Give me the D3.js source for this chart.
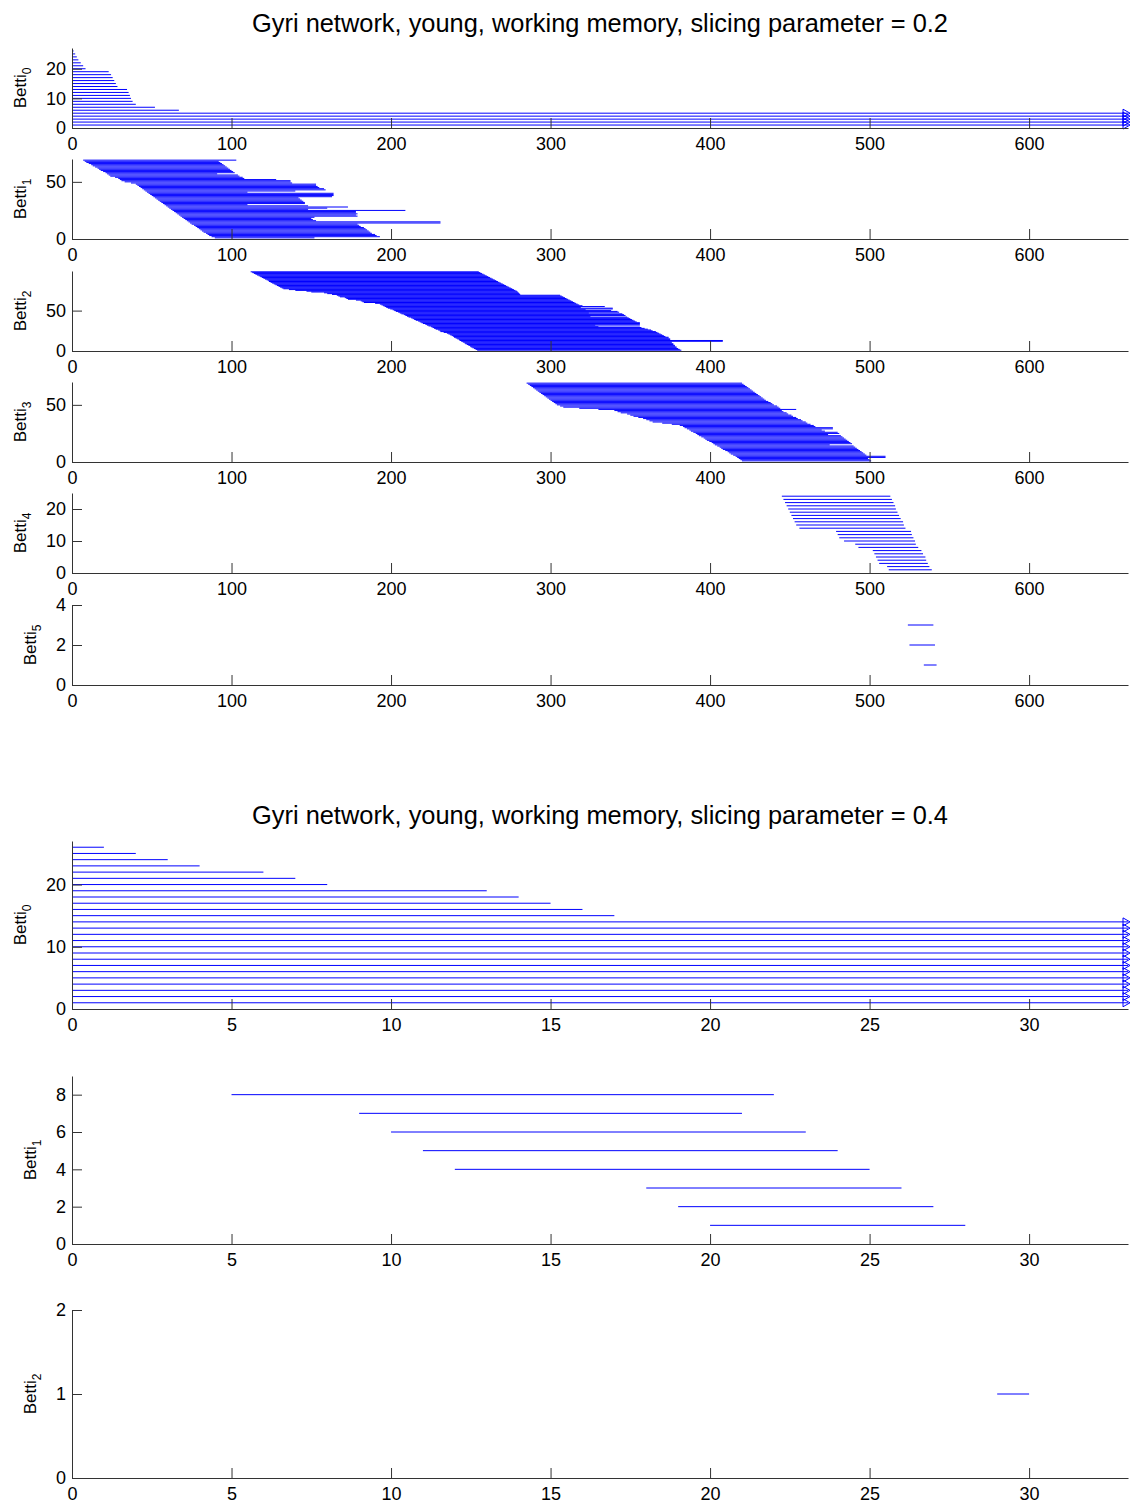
<!DOCTYPE html>
<html>
<head>
<meta charset="utf-8">
<script src="https://cdn.jsdelivr.net/npm/d3@7"></script>
<style>
  body { margin: 0; background: #fff; }
  svg { display: block; }
</style>
</head>
<body>
<div id="chart"></div>
<script>
// ---------------------------------------------------------------
// Persistence barcodes, slicing parameter = 0.2
// Each barcode is listed from its top row down to its bottom row.
// Infinity marks an interval that never dies.
// ---------------------------------------------------------------
const topFiltrationMax = 662;
const topXTicks = [0, 100, 200, 300, 400, 500, 600];

const topBetti0Births = [0,0,0,0,0,0,0,0,0,0,0,0,0,0,0,0,0,0,0,0,0,0,0,0,0,0];
const topBetti0Deaths = [1, 2, 3, 4, 5.5, 7, 8.5, 23, 24.5, 25.5, 26.5, 27.5, 28.5,
  34.5, 35.5, 36.3, 37, 38, 40, 52, 67, Infinity, Infinity, Infinity, Infinity, Infinity];
const topBetti0YTicks = [0, 10, 20];

const topBetti1Births = [7, 8, 9, 10.5, 12, 13, 14.5, 16, 17, 18, 19.5, 21, 22, 23, 24,
  27, 29, 30, 31, 33, 37,
  40, 41, 42, 43, 44, 45, 46, 47, 48, 49, 50, 51, 52, 53, 54, 55, 56, 57, 58, 59,
  60, 61, 62, 63, 64, 65, 66, 67, 68, 69, 70, 71, 72, 73, 74, 75,
  76.5, 77.5, 78.5, 79.5, 80.5, 81.5, 82.5, 84, 85, 86, 87.5, 89.5];
const topBetti1Deaths = [103, 92, 93, 94, 95, 96, 97, 98, 99, 100, 101, 102, 91, 104, 105, 107, 108,
  128, 137, 137, 138, 153, 153, 154, 155, 158, 159, 140, 110, 164, 164, 164, 163,
  142, 143, 144, 145, 146, 146, 110, 148, 173, 160, 148,
  209,
  178, 178, 179, 178, 179,
  152, 150, 151, 153,
  231, 231,
  179, 180, 181, 183, 184, 185, 186, 187, 188, 190, 191, 193, 152];
const topBetti1YTicks = [0, 50];

const topBetti2Births = [112, 113, 114, 115, 116, 117, 118, 119, 120, 121, 122, 123,
  123.5, 124.5, 125.5, 126.5, 127.5, 128.5, 129.5, 130.5, 131.5, 132.5,
  136, 140, 147, 150, 158, 160, 163, 166, 167, 168, 171, 172, 173, 178, 181, 182, 183, 190, 193, 194,
  195, 196, 197, 198, 199.5, 201, 202, 203, 204.5, 205.5, 206.5, 208, 209, 210, 211, 212.5,
  213.5, 214.5, 215.5, 217, 218, 219, 220, 221.5, 222.5, 223.5, 225, 226, 227, 228, 229.5, 230.5, 231,
  233, 235, 236, 237, 238, 239, 239.5, 240.5, 241.5, 242.5, 243, 244, 245, 246, 246.5, 247.5,
  248.5, 249.5, 250, 251, 252, 253, 254];
const topBetti2Deaths = [255, 256, 257, 258, 259, 260, 261, 262, 263, 264, 265, 266, 267, 268, 269,
  270, 271, 272, 273, 274, 275, 276, 277, 278, 279, 279.5, 280, 280.5, 281,
  306, 307, 308, 309, 310, 311, 312, 313, 314, 315, 316, 317, 318, 320,
  334, 319, 339, 339, 322, 338, 342, 343, 324, 345, 346, 347, 325, 348, 349,
  350, 351, 352, 353, 354, 356, 356, 356, 328, 356, 330, 357, 359, 361, 363,
  364, 366, 367, 368, 369, 370, 371, 372, 374, 374, 375, 375, 408, 408, 376,
  376, 377, 377, 378, 378, 379, 379, 380, 381, 382];
const topBetti2YTicks = [0, 50];

const topBetti3Births = [285, 286, 287, 288, 289, 290, 291, 292, 293, 294, 295, 296, 297, 298, 299,
  300, 301, 302, 303, 304, 306,
  308, 318, 330, 340, 342, 344, 348, 350, 352, 355, 358, 360, 362, 364, 370, 376, 381,
  383, 384, 385.5, 387, 388, 389.5, 391, 392, 393, 394.5, 396, 397, 398, 399.5, 401,
  402, 403, 404.5, 406, 407, 408, 409.5, 411, 412, 413, 414.5, 416, 417, 418, 419, 420];
const topBetti3Deaths = [420, 421, 422, 423, 424, 425, 426, 427, 428, 429, 430, 431, 432, 433, 434,
  435, 436.5, 438, 439, 440, 442,
  443, 444, 454, 445, 446, 448, 449, 451, 452, 454, 455, 457, 458, 460, 461, 463, 465,
  466, 477, 477, 470, 472, 480, 481, 474, 482, 483, 484, 485, 486, 487, 488, 489,
  475, 490, 491, 492, 493, 494, 495, 496, 497, 498, 510, 510, 499, 500, 501];
const topBetti3YTicks = [0, 50];

const topBetti4Births = [445, 446, 447, 448, 449, 450, 451, 452, 453, 454, 456,
  479, 480, 481, 484, 491, 493, 502, 503, 504, 505, 506, 511, 512];
const topBetti4Deaths = [513, 514, 515, 516, 516.5, 517.5, 518.5, 519.5, 521, 521.5, 522.5,
  526, 526.5, 527.5, 528.5, 529, 530.5, 532.5, 533.5, 535, 535.5, 536.5, 537.5, 539];
const topBetti4YTicks = [0, 10, 20];

const topBetti5Births = [524, 525, 534];
const topBetti5Deaths = [540, 541, 542];
const topBetti5YTicks = [0, 2, 4];

// ---------------------------------------------------------------
// Persistence barcodes, slicing parameter = 0.4
// ---------------------------------------------------------------
const bottomFiltrationMax = 33.1;
const bottomXTicks = [0, 5, 10, 15, 20, 25, 30];

const bottomBetti0Births = [0,0,0,0,0,0,0,0,0,0,0,0,0,0,0,0,0,0,0,0,0,0,0,0,0,0];
const bottomBetti0Deaths = [1, 2, 3, 4, 6, 7, 8, 13, 14, 15, 16, 17,
  Infinity, Infinity, Infinity, Infinity, Infinity, Infinity, Infinity,
  Infinity, Infinity, Infinity, Infinity, Infinity, Infinity, Infinity];
const bottomBetti0YTicks = [0, 10, 20];

const bottomBetti1Births = [5, 9, 10, 11, 12, 18, 19, 20];
const bottomBetti1Deaths = [22, 21, 23, 24, 25, 26, 27, 28];
const bottomBetti1YTicks = [0, 2, 4, 6, 8];

const bottomBetti2Births = [29];
const bottomBetti2Deaths = [30];
const bottomBetti2YTicks = [0, 1, 2];

const titles = [
  "Gyri network, young, working memory, slicing parameter = 0.2",
  "Gyri network, young, working memory, slicing parameter = 0.4"
];

// ---------------------------------------------------------------
// Layout
// ---------------------------------------------------------------
const W = 1130, H = 1505;
const FONT = '"Liberation Sans", Arial, Helvetica, sans-serif';
const plotLeft = 72, plotRight = 1128;
const barColor = "#0000ff";
const axisColor = "#333";

const svg = d3.select("#chart").append("svg")
  .attr("width", W).attr("height", H)
  .style("background", "#fff");

const figures = [
  {
    title: titles[0], titleY: 32, xMax: topFiltrationMax, xTicks: topXTicks,
    panels: [
      { dim: 0, births: topBetti0Births, deaths: topBetti0Deaths, yTicks: topBetti0YTicks, bottom: 128, height: 80 },
      { dim: 1, births: topBetti1Births, deaths: topBetti1Deaths, yTicks: topBetti1YTicks, bottom: 239, height: 80 },
      { dim: 2, births: topBetti2Births, deaths: topBetti2Deaths, yTicks: topBetti2YTicks, bottom: 351, height: 80 },
      { dim: 3, births: topBetti3Births, deaths: topBetti3Deaths, yTicks: topBetti3YTicks, bottom: 462, height: 80 },
      { dim: 4, births: topBetti4Births, deaths: topBetti4Deaths, yTicks: topBetti4YTicks, bottom: 573, height: 80 },
      { dim: 5, births: topBetti5Births, deaths: topBetti5Deaths, yTicks: topBetti5YTicks, bottom: 685, height: 80 }
    ]
  },
  {
    title: titles[1], titleY: 824, xMax: bottomFiltrationMax, xTicks: bottomXTicks,
    panels: [
      { dim: 0, births: bottomBetti0Births, deaths: bottomBetti0Deaths, yTicks: bottomBetti0YTicks, bottom: 1009, height: 168 },
      { dim: 1, births: bottomBetti1Births, deaths: bottomBetti1Deaths, yTicks: bottomBetti1YTicks, bottom: 1244, height: 168 },
      { dim: 2, births: bottomBetti2Births, deaths: bottomBetti2Deaths, yTicks: bottomBetti2YTicks, bottom: 1478, height: 168 }
    ]
  }
];

function drawPanel(fig, p) {
  const n = p.births.length;
  const x = d3.scaleLinear().domain([0, fig.xMax]).range([plotLeft, plotRight]);
  const y = d3.scaleLinear().domain([0, n + 1]).range([p.bottom, p.bottom - p.height]);
  const g = svg.append("g");

  // one horizontal line per interval; row n at the top, row 1 at the bottom
  const rows = p.births.map((b, i) => ({ birth: b, death: p.deaths[i], row: n - i }));
  g.append("g").selectAll("line").data(rows).join("line")
    .attr("x1", d => x(d.birth))
    .attr("x2", d => isFinite(d.death) ? x(d.death) : x(fig.xMax))
    .attr("y1", d => y(d.row))
    .attr("y2", d => y(d.row))
    .attr("stroke", barColor)
    .attr("stroke-width", 1);

  // right-pointing markers on intervals that persist to the end
  const open = rows.filter(d => !isFinite(d.death));
  g.append("g").selectAll("path").data(open).join("path")
    .attr("d", d => {
      const cx = x(fig.xMax) - 1.5, cy = y(d.row);
      return `M${cx - 3.5},${cy - 4}L${cx + 3.5},${cy}L${cx - 3.5},${cy + 4}Z`;
    })
    .attr("fill", "none")
    .attr("stroke", barColor)
    .attr("stroke-width", 1);

  // axes drawn over the bars, ticks pointing inward
  const xAxis = d3.axisBottom(x).tickValues(fig.xTicks).tickFormat(d3.format("d"))
    .tickSizeInner(-10).tickSizeOuter(0).tickPadding(9);
  const yAxis = d3.axisLeft(y).tickValues(p.yTicks).tickFormat(d3.format("d"))
    .tickSizeInner(-10).tickSizeOuter(0).tickPadding(6);

  const gx = g.append("g").attr("transform", `translate(0,${p.bottom})`).call(xAxis);
  const gy = g.append("g").attr("transform", `translate(${plotLeft},0)`).call(yAxis);
  [gx, gy].forEach(a => {
    a.attr("font-family", FONT).attr("font-size", 18);
    a.select(".domain").attr("stroke", axisColor);
    a.selectAll(".tick line").attr("stroke", axisColor);
    a.selectAll(".tick text").attr("fill", "#000");
  });

  // y label "Betti" with the dimension as subscript
  const maxChars = d3.max(p.yTicks, t => String(t).length);
  const lx = plotLeft - 6 - maxChars * 10 - 20;
  const ly = p.bottom - p.height / 2;
  const label = g.append("text")
    .attr("transform", `translate(${lx},${ly}) rotate(-90)`)
    .attr("text-anchor", "middle")
    .attr("font-family", FONT)
    .attr("font-size", 17)
    .attr("fill", "#000");
  label.append("tspan").text("Betti");
  label.append("tspan").attr("font-size", 12).attr("dy", 5).text(p.dim);
}

figures.forEach(fig => {
  svg.append("text")
    .attr("x", (plotLeft + plotRight) / 2)
    .attr("y", fig.titleY)
    .attr("text-anchor", "middle")
    .attr("font-family", FONT)
    .attr("font-size", 25.4)
    .attr("fill", "#000")
    .text(fig.title);
  fig.panels.forEach(p => drawPanel(fig, p));
});
</script>
</body>
</html>
